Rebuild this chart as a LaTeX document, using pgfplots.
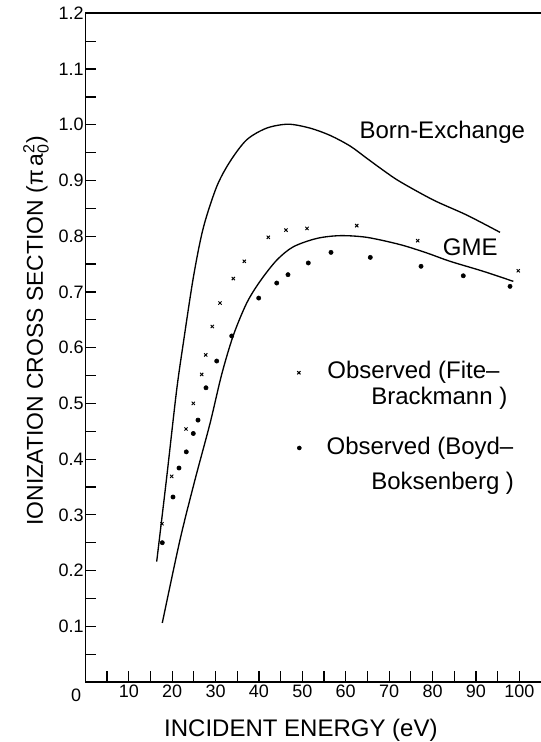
\documentclass[border=0pt]{standalone}
\usepackage{fontspec}
\setmainfont{Liberation Sans}
\usepackage{pgfplots}
\pgfplotsset{compat=1.18}
\begin{document}
\begin{tikzpicture}
\useasboundingbox (-64.05pt,-45pt) rectangle (340.95pt,511.5pt);
\begin{axis}[
  at={(0,0)}, anchor=origin,
  scale only axis,
  width=341.7pt, height=501.5pt,
  xmin=0, xmax=105, ymin=0, ymax=1.2,
  separate axis lines,
  axis x line*=box, axis y line*=left,
  xtick pos=left, ytick pos=left,
  tick align=inside,
  clip=false,
  axis line style={line width=1.3pt},
  every tick/.style={black, line width=0.9pt},
  major tick length=8pt, minor tick length=8pt,
  xtick={10,20,30,40,50,60,70,80,90,100},
  xticklabels={10,20,30,40,50,60,70,80,90,100},
  minor xtick={5,15,25,35,45,55,65,75,85,95},
  ytick={0.1,0.2,0.3,0.4,0.5,0.6,0.7,0.8,0.9,1.0,1.1,1.2},
  yticklabels={0.1,0.2,0.3,0.4,0.5,0.6,0.7,0.8,0.9,1.0,1.1,1.2},
  minor ytick={0.05,0.15,0.25,0.35,0.45,0.55,0.65,0.75,0.85,0.95,1.05,1.15},
  tick label style={font=\fontsize{13.5}{15}\selectfont},
  yticklabel style={inner sep=1.2pt},
  xticklabel style={inner sep=1pt, yshift=-1pt},
  /pgf/number format/assume math mode=true,
  xlabel={INCIDENT ENERGY (eV)},
  ylabel={IONIZATION CROSS SECTION (π\,a$_{\hbox{\fontsize{12}{12}\selectfont 0}}^{\hbox{\fontsize{12}{12}\selectfont 2}}$)},
  x label style={font=\fontsize{18}{20}\selectfont},
  y label style={font=\fontsize{17.2}{20}\selectfont},
  xlabel style={at={(axis description cs:0.473,-0.0718)}, anchor=center},
  ylabel style={at={(axis description cs:-0.1084,0.525)}, anchor=center},
]
\draw[line width=1.3pt, line cap=rect] (rel axis cs:0,0) -- (rel axis cs:0,1) -- (rel axis cs:1,1);
% Born-Exchange
\addplot[black, line width=1pt, smooth, tension=0.5] coordinates {
(16.43,0.216) (18.70,0.365) (21.00,0.522) (22.60,0.610) (24.90,0.727)
(27.17,0.815) (30.26,0.889) (33.33,0.934) (37.17,0.973) (41.78,0.994)
(46.76,1.001) (51.76,0.994) (56.37,0.981) (60.98,0.962) (64.83,0.940)
(68.70,0.918) (72.50,0.898) (80.18,0.865) (87.88,0.838) (95.55,0.807)
};
% GME
\addplot[black, line width=1pt, smooth, tension=0.5] coordinates {
(17.72,0.106) (21.80,0.255) (25.26,0.363) (28.72,0.464) (31.41,0.552)
(34.09,0.622) (37.17,0.680) (40.24,0.719) (44.09,0.757) (47.91,0.781)
(53.31,0.796) (58.68,0.801) (64.83,0.798) (72.51,0.785) (78.66,0.770)
(84.03,0.755) (91.70,0.737) (98.62,0.719)
};
% Observed (Fite-Brackmann)
\addplot[only marks, mark=x, mark size=1.7pt, black, mark options={line width=0.7pt}] coordinates {
(17.65,0.284) (19.89,0.369) (23.19,0.454) (24.87,0.500) (26.80,0.552)
(27.73,0.587) (29.25,0.638) (31.02,0.680) (34.09,0.724) (36.62,0.755)
(42.15,0.798) (46.23,0.811) (51.07,0.814) (62.53,0.819) (76.58,0.792)
(99.77,0.738)
};
% Observed (Boyd-Boksenberg)
\addplot[only marks, mark=*, mark size=1.6pt, black] coordinates {
(17.72,0.250) (20.19,0.332) (21.57,0.384) (23.25,0.413) (24.87,0.446)
(25.95,0.470) (27.79,0.528) (30.26,0.576) (33.72,0.621) (39.94,0.689)
(44.09,0.716) (46.69,0.731) (51.37,0.752) (56.60,0.771) (65.66,0.762)
(77.35,0.746) (87.09,0.729) (97.86,0.710)
};
% legend markers
\addplot[only marks, mark=x, mark size=1.7pt, black, mark options={line width=0.7pt}] coordinates {(49.2,0.555)};
\addplot[only marks, mark=*, mark size=1.5pt, black] coordinates {(49.3,0.420)};
\node[anchor=west, font=\fontsize{18}{20}\selectfont] at (axis cs:54.7,0.555) {Observed (Fite–};
\node[anchor=west, font=\fontsize{18}{20}\selectfont] at (axis cs:64.8,0.509) {Brackmann )};
\node[anchor=west, font=\fontsize{18}{20}\selectfont] at (axis cs:54.5,0.420) {Observed (Boyd–};
\node[anchor=west, font=\fontsize{18}{20}\selectfont] at (axis cs:64.8,0.357) {Boksenberg )};
\node[anchor=west, font=\fontsize{18}{20}\selectfont] at (axis cs:62.1,0.986) {Born-Exchange};
\node[anchor=west, font=\fontsize{18}{20}\selectfont] at (axis cs:81.3,0.781) {GME};
\node[font=\fontsize{13.5}{15}\selectfont] at (axis description cs:-0.0206,-0.0194) {0};
\end{axis}
\end{tikzpicture}
\end{document}
